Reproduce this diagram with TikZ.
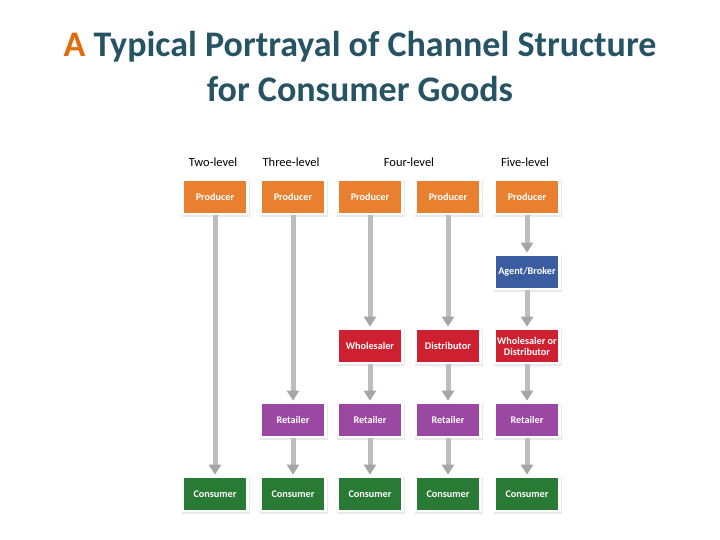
\documentclass[tikz,border=0pt]{standalone}
\usepackage{fontspec}
\setmainfont{Carlito}
\usetikzlibrary{arrows.meta,shadows}
\definecolor{titlec}{RGB}{38,84,100}
\definecolor{orangeA}{RGB}{227,108,10}
\definecolor{prodc}{RGB}{232,128,48}
\definecolor{agentc}{RGB}{58,92,160}
\definecolor{wholec}{RGB}{206,32,48}
\definecolor{retc}{RGB}{154,72,162}
\definecolor{consc}{RGB}{40,122,52}
\definecolor{arrc}{RGB}{190,190,190}
\tikzset{
  box/.style={draw=white, line width=2.6pt, minimum width=65pt, minimum height=34pt,
    inner sep=1pt, text=white, font=\fontsize{10.2}{11}\selectfont\bfseries, align=center,
    general shadow={shadow scale=1.0, shadow xshift=1.2pt, shadow yshift=-1.2pt, fill=black!55, opacity=0.35, draw=black!25, line width=3pt}},
  prod/.style={box, fill=prodc},
  agent/.style={box, fill=agentc},
  whole/.style={box, fill=wholec},
  ret/.style={box, fill=retc},
  cons/.style={box, fill=consc},
  hdr/.style={font=\fontsize{12.5}{14}\selectfont},
  flow/.style={draw=arrc, line width=5pt, -{Triangle[width=12pt,length=10pt,color=black!35]}, shorten >=1pt},
}
\begin{document}
\begin{tikzpicture}[x=1pt,y=-1pt]
\useasboundingbox (0,0) rectangle (720,540);
\node[font=\fontsize{36}{45}\selectfont\bfseries, text=titlec, align=center] (title) at (360,67)
  {\textcolor{orangeA}{A} Typical Portrayal of Channel Structure\\for Consumer Goods};
\node[hdr] (h1) at (213,162) {Two-level};
\node[hdr] (h2) at (291,162) {Three-level};
\node[hdr] (h3) at (409,162) {Four-level};
\node[hdr] (h4) at (525,162) {Five-level};
% producers
\node[prod] (p1) at (215,197) {Producer};
\node[prod] (p2) at (293,197) {Producer};
\node[prod] (p3) at (370,197) {Producer};
\node[prod] (p4) at (448,197) {Producer};
\node[prod] (p5) at (527,197) {Producer};
% agent
\node[agent] (a5) at (527,272) {Agent/Broker};
% wholesalers
\node[whole] (w3) at (370,346) {Wholesaler};
\node[whole] (w4) at (448,346) {Distributor};
\node[whole] (w5) at (527,346) {Wholesaler or\\Distributor};
% retailers
\node[ret] (r2) at (293,420) {Retailer};
\node[ret] (r3) at (370,420) {Retailer};
\node[ret] (r4) at (448,420) {Retailer};
\node[ret] (r5) at (527,420) {Retailer};
% consumers
\node[cons] (c1) at (215,494) {Consumer};
\node[cons] (c2) at (293,494) {Consumer};
\node[cons] (c3) at (370,494) {Consumer};
\node[cons] (c4) at (448,494) {Consumer};
\node[cons] (c5) at (527,494) {Consumer};
% flows
\draw[flow] (p1) -- (c1);
\draw[flow] (p2) -- (r2);
\draw[flow] (r2) -- (c2);
\draw[flow] (p3) -- (w3);
\draw[flow] (w3) -- (r3);
\draw[flow] (r3) -- (c3);
\draw[flow] (p4) -- (w4);
\draw[flow] (w4) -- (r4);
\draw[flow] (r4) -- (c4);
\draw[flow] (p5) -- (a5);
\draw[flow] (a5) -- (w5);
\draw[flow] (w5) -- (r5);
\draw[flow] (r5) -- (c5);
\end{tikzpicture}
\end{document}
